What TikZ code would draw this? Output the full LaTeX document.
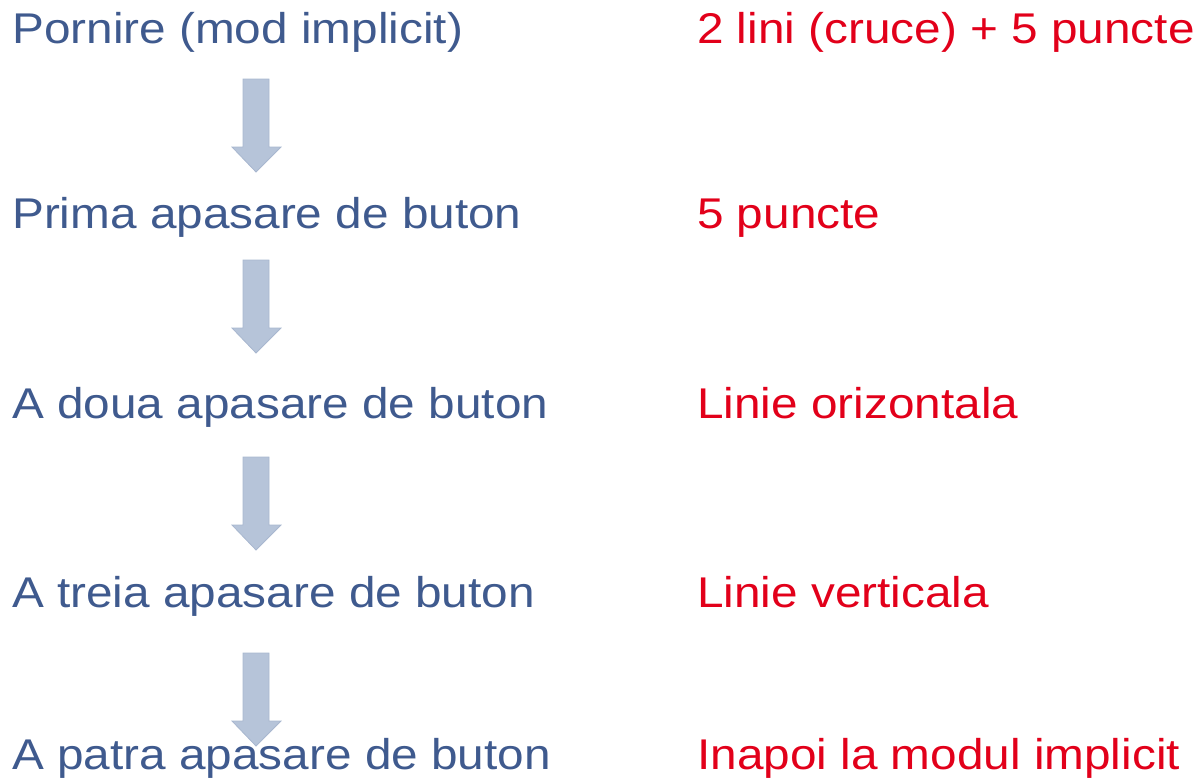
\documentclass[tikz,border=0pt]{standalone}
\usepackage{fontspec}
\setmainfont[FakeStretch=1.11]{Liberation Sans}
\definecolor{stepblue}{RGB}{63,90,142}
\definecolor{modered}{RGB}{226,0,26}
\definecolor{arrowfill}{RGB}{182,196,217}
\definecolor{arrowline}{RGB}{168,183,207}
\tikzset{
  steptext/.style={anchor=base west,inner sep=0pt,text=stepblue,font=\fontsize{43}{50}\selectfont},
  modetext/.style={anchor=base west,inner sep=0pt,text=modered,font=\fontsize{43}{50}\selectfont},
  downarrow/.style={fill=arrowfill,draw=arrowline,line width=0.8pt}
}
\begin{document}
\begin{tikzpicture}[x=1pt,y=-1pt]
	\useasboundingbox (0,0) rectangle (1199,779);
	% left column: button presses
	\node[steptext] (s0) at (12,43) {Pornire (mod implicit)};
	\node[steptext] (s1) at (12,228) {Prima apasare de buton};
	\node[steptext] (s2) at (12,418) {A doua apasare de buton};
	\node[steptext] (s3) at (12,607) {A treia apasare de buton};
	\node[steptext] (s4) at (12,769) {A patra apasare de buton};
	% right column: display mode
	\node[modetext] (m0) at (697,43) {2 lini (cruce) + 5 puncte};
	\node[modetext] (m1) at (697,228) {5 puncte};
	\node[modetext] (m2) at (697,418) {Linie orizontala};
	\node[modetext] (m3) at (697,607) {Linie verticala};
	\node[modetext] (m4) at (697,769) {Inapoi la modul implicit};
	% block arrows between the steps
	\foreach \t in {79,260,457,653}
		\draw[downarrow] (243,\t) -- (269,\t) -- (269,\t+68) -- (281,\t+68)
			-- (256,\t+93) -- (232,\t+68) -- (243,\t+68) -- cycle;
\end{tikzpicture}
\end{document}
